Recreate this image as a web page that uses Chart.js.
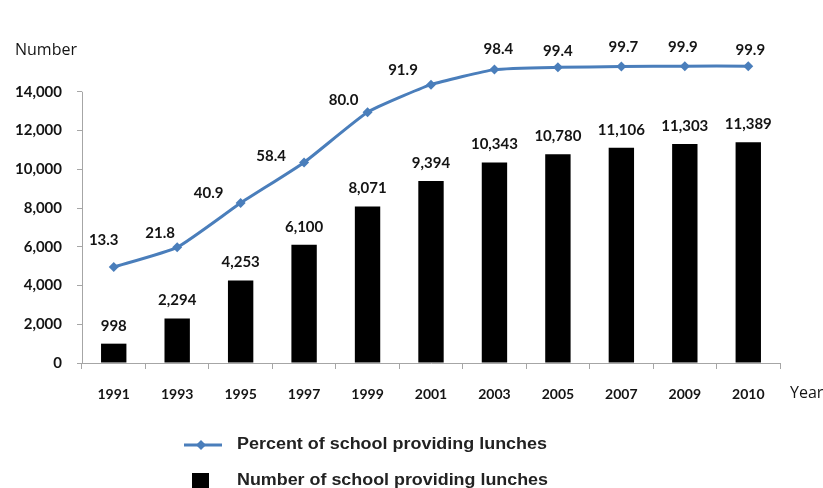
<!DOCTYPE html>
<html>
<head>
<meta charset="utf-8">
<script src="https://cdn.jsdelivr.net/npm/chart.js@4.4.1/dist/chart.umd.min.js"></script>
<style>
  html, body { margin: 0; padding: 0; background: #fff; }
  #wrap { width: 823px; height: 488px; position: relative; }
</style>
</head>
<body>
<div id="wrap"><canvas id="lunchChart"></canvas></div>
<script>
// data
const years = ["1991", "1993", "1995", "1997", "1999", "2001", "2003", "2005", "2007", "2009", "2010"];
const schoolCounts = [998, 2294, 4253, 6100, 8071, 9394, 10343, 10780, 11106, 11303, 11389];
const lunchPercent = [13.3, 21.8, 40.9, 58.4, 80.0, 91.9, 98.4, 99.4, 99.7, 99.9, 99.9];
const percentLabel = "Percent of school providing lunches";
const countLabel = "Number of school providing lunches";
const topTick = 14000;

// where each percent label sits relative to its point (dx, dy)
const lineLabelOffsets = [[-10, -27], [-17, -14], [-32, -10], [-33, -6], [-24, -12], [-28, -15], [4, -20], [0, -16], [2, -19], [-2, -19], [2, -16]];

const BLUE = "#4a7ebb";
const TEXT = "#141414";
const AXIS = "#a6a6a6";

// draws text squeezed/stretched to a given width
function fitText(ctx, text, x, y, width) {
  const w = ctx.measureText(text).width;
  ctx.save();
  ctx.translate(x, y);
  ctx.scale(width / w, 1);
  ctx.fillText(text, 0, 0);
  ctx.restore();
}

const labelsPlugin = {
  id: "labelsPlugin",
  beforeDatasetsDraw(chart) {
    // y axis line only up to the last labelled tick
    const ctx = chart.ctx;
    const y = chart.scales.y;
    ctx.save();
    ctx.strokeStyle = AXIS;
    ctx.lineWidth = 1;
    ctx.beginPath();
    ctx.moveTo(y.right + 0.5, y.getPixelForValue(topTick));
    ctx.lineTo(y.right + 0.5, y.getPixelForValue(0));
    ctx.stroke();
    ctx.restore();
  },
  afterDatasetsDraw(chart) {
    const ctx = chart.ctx;
    ctx.save();
    ctx.textAlign = "center";
    ctx.textBaseline = "middle";
    ctx.fillStyle = TEXT;
    ctx.font = "bold 15px Lato";

    // bar values
    const barMeta = chart.getDatasetMeta(1);
    barMeta.data.forEach((bar, i) => {
      ctx.fillText(schoolCounts[i].toLocaleString("en-US"), bar.x, bar.y - 18);
    });

    // percent values
    const lineMeta = chart.getDatasetMeta(0);
    lineMeta.data.forEach((pt, i) => {
      const [dx, dy] = lineLabelOffsets[i];
      ctx.fillText(lunchPercent[i].toFixed(1), pt.x + dx, pt.y + dy);
    });

    // axis titles
    ctx.font = "16px 'Open Sans'";
    ctx.textAlign = "left";
    ctx.fillText("Number", 15, 50);
    ctx.fillText("Year", 790, 393);

    // legend
    ctx.strokeStyle = BLUE;
    ctx.lineWidth = 3;
    ctx.beginPath();
    ctx.moveTo(184, 445);
    ctx.lineTo(222, 445);
    ctx.stroke();
    ctx.fillStyle = BLUE;
    ctx.beginPath();
    ctx.moveTo(201, 440);
    ctx.lineTo(206, 445);
    ctx.lineTo(201, 450);
    ctx.lineTo(196, 445);
    ctx.closePath();
    ctx.fill();
    ctx.fillStyle = "#000";
    ctx.fillRect(192, 473, 17, 16);

    ctx.fillStyle = "#222";
    ctx.font = "bold 16px 'Liberation Sans'";
    fitText(ctx, percentLabel, 237, 445, 310);
    fitText(ctx, countLabel, 237, 481, 311);
    ctx.restore();
  }
};

new Chart(document.getElementById("lunchChart"), {
  data: {
    labels: years,
    datasets: [
      {
        type: "line",
        label: percentLabel,
        data: lunchPercent,
        yAxisID: "y2",
        borderColor: BLUE,
        backgroundColor: BLUE,
        borderWidth: 3,
        pointStyle: "rectRot",
        pointRadius: 5,
        pointBackgroundColor: BLUE,
        pointBorderWidth: 0,
        tension: 0.15,
        order: 0
      },
      {
        type: "bar",
        label: countLabel,
        data: schoolCounts,
        yAxisID: "y",
        backgroundColor: "#000",
        barPercentage: 0.4,
        categoryPercentage: 1,
        order: 1
      }
    ]
  },
  options: {
    responsive: true,
    maintainAspectRatio: false,
    animation: false,
    layout: { padding: { top: 53, right: 43, bottom: 85, left: 0 } },
    plugins: {
      legend: { display: false },
      tooltip: { enabled: false }
    },
    scales: {
      x: {
        grid: { offset: true, drawOnChartArea: false, tickLength: 6, color: AXIS },
        border: { color: AXIS },
        ticks: { padding: 17, color: TEXT, font: { family: "Lato", weight: "bold", size: 14 } },
        afterFit: (scale) => { scale.height = 40; }
      },
      y: {
        min: 0,
        max: 16000,
        grid: {
          drawOnChartArea: false,
          tickLength: 5,
          color: (c) => (c.tick && c.tick.value > topTick ? "rgba(0,0,0,0)" : AXIS)
        },
        border: { display: false },
        ticks: {
          stepSize: 2000,
          padding: 15,
          color: TEXT,
          font: { family: "Lato", weight: "bold", size: 15 },
          callback: (v) => (v > topTick ? "" : v.toLocaleString("en-US"))
        },
        afterFit: (scale) => { scale.width = 82; }
      },
      y2: {
        display: false,
        min: -28.04,
        max: 105.56
      }
    }
  },
  plugins: [labelsPlugin]
});
</script>
</body>
</html>
